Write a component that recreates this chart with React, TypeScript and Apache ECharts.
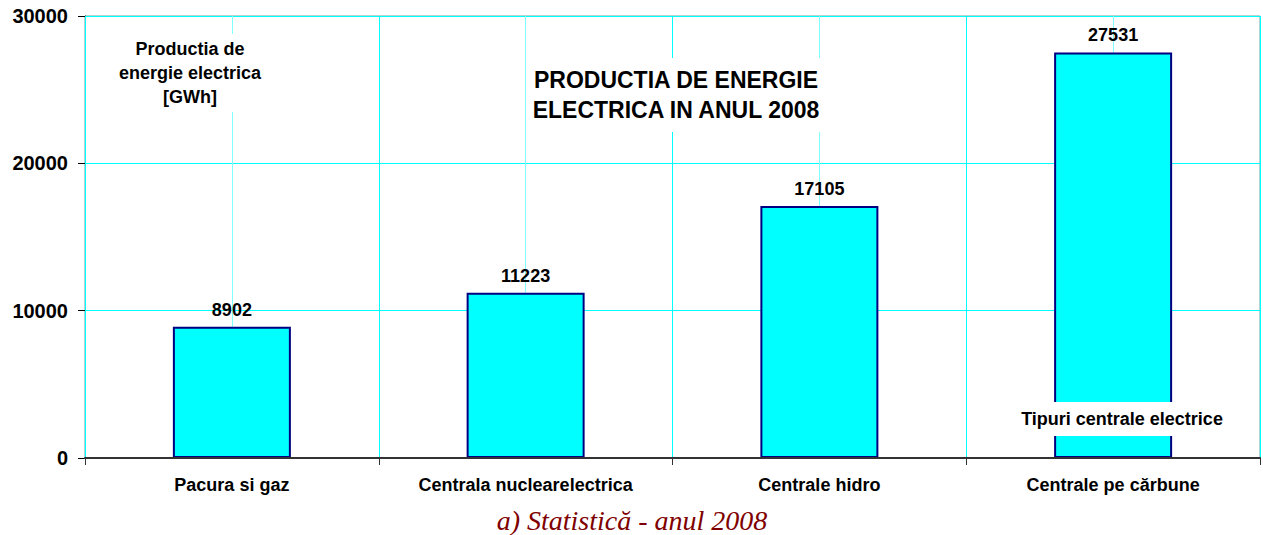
import React, { useEffect, useRef } from "react";
import * as echarts from "echarts";

const categories = [
  "Pacura si gaz",
  "Centrala nuclearelectrica",
  "Centrale hidro",
  "Centrale pe cărbune",
];
const production = [8902, 11223, 17105, 27531];
const yTicks = { min: 0, max: 30000, interval: 10000 };
const chartTitle = "PRODUCTIA DE ENERGIE\nELECTRICA IN ANUL 2008";
const yAxisName = "Productia de\nenergie electrica\n[GWh]";
const xAxisName = "Tipuri centrale electrice";
const caption = "a) Statistică - anul 2008";

export default function App() {
  const ref = useRef<HTMLDivElement>(null);
  useEffect(() => {
    document.body.style.margin = "0";
    const chart = echarts.init(ref.current!, null, { renderer: "svg" });
    const font = "Arial, 'Liberation Sans', sans-serif";
    chart.setOption({
      animation: false,
      backgroundColor: "#ffffff",
      grid: {
        left: 85,
        right: 3,
        top: 16,
        bottom: 77,
        show: true,
        borderColor: "#6aa6a6",
        borderWidth: 1,
        backgroundColor: "transparent",
      },
      xAxis: [
        {
          type: "category",
          data: categories,
          boundaryGap: true,
          axisLine: { show: true, lineStyle: { color: "#333333", width: 2 } },
          axisTick: { show: true, inside: false, length: 7, lineStyle: { color: "#333333" } },
          axisLabel: {
            color: "#000000",
            fontFamily: font,
            fontWeight: "bold",
            fontSize: 18,
            margin: 18,
          },
          splitLine: { show: true, lineStyle: { color: "#00ffff", width: 1 } },
          z: 3,
        },
        {
          type: "value",
          min: 0,
          max: categories.length,
          interval: 0.5,
          show: true,
          position: "top",
          axisLine: { show: false },
          axisTick: { show: false },
          axisLabel: { show: false },
          splitLine: {
            show: true,
            lineStyle: { color: ["rgba(0,0,0,0)", "#80ffff"], width: 1 },
          },
        },
      ],
      yAxis: {
        type: "value",
        min: yTicks.min,
        max: yTicks.max,
        interval: yTicks.interval,
        axisLine: { show: true, lineStyle: { color: "#000000", width: 1 } },
        axisTick: { show: true, inside: false, length: 7, lineStyle: { color: "#000000" } },
        axisLabel: {
          color: "#000000",
          fontFamily: font,
          fontWeight: "bold",
          fontSize: 20,
          margin: 17,
          formatter: (v: number) => String(v),
        },
        splitLine: { show: true, lineStyle: { color: "#00ffff", width: 1 } },
      },
      series: [
        {
          type: "bar",
          xAxisIndex: 0,
          data: production,
          barWidth: 118,
          itemStyle: { color: "#00ffff", borderColor: "#000080", borderWidth: 2 },
          label: {
            show: true,
            position: "top",
            distance: 8,
            color: "#000000",
            fontFamily: font,
            fontWeight: "bold",
            fontSize: 18,
          },
        },
      ],
      graphic: [
        {
          type: "text",
          z: 100,
          x: 190,
          y: 73,
          style: {
            text: yAxisName,
            font: `bold 18px ${font}`,
            fill: "#000000",
            align: "center",
            verticalAlign: "middle",
            lineHeight: 24,
            backgroundColor: "#ffffff",
            padding: [3, 4, 3, 4],
          },
        },
        {
          type: "text",
          z: 100,
          x: 676,
          y: 95,
          style: {
            text: chartTitle,
            font: `bold 23px ${font}`,
            fill: "#000000",
            align: "center",
            verticalAlign: "middle",
            lineHeight: 30,
            backgroundColor: "#ffffff",
            padding: [7, 4, 7, 4],
          },
        },
        {
          type: "text",
          z: 100,
          x: 1122,
          y: 419,
          style: {
            text: xAxisName,
            font: `bold 18px ${font}`,
            fill: "#000000",
            align: "center",
            verticalAlign: "middle",
            backgroundColor: "#ffffff",
            padding: [8, 4, 8, 4],
          },
        },
        {
          type: "text",
          z: 100,
          x: 632,
          y: 520,
          style: {
            text: caption,
            font: `italic 28px 'Liberation Serif', 'Times New Roman', serif`,
            fill: "#800000",
            align: "center",
            verticalAlign: "middle",
          },
        },
      ],
    });
    return () => chart.dispose();
  }, []);
  return (
    <div
      ref={ref}
      style={{ position: "absolute", left: 0, top: 0, width: 1263, height: 535 }}
    />
  );
}
